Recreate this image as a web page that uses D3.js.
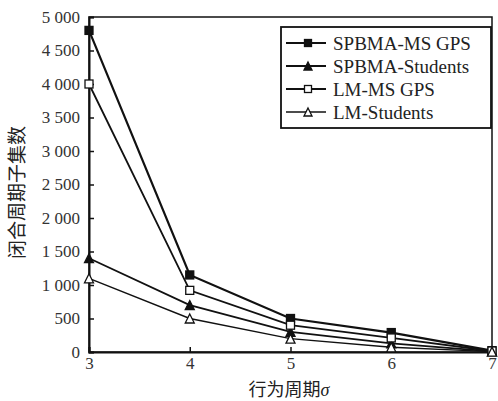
<!DOCTYPE html>
<html>
<head>
<meta charset="utf-8">
<script src="https://cdn.jsdelivr.net/npm/d3@7"></script>
<style>
  body { margin: 0; background: #fff; }
  svg text { font-family: "Liberation Serif", "DejaVu Serif", serif; fill: #222; }
  svg text.cjk, svg tspan.cjk { font-family: "Noto Sans CJK SC", sans-serif; }
</style>
</head>
<body>
<div id="wrapper"></div>
<script>
// data
const periods = [3, 4, 5, 6, 7];
const spbmaMs = [4800, 1150, 500, 290, 20];
const spbmaStudents = [1400, 700, 300, 130, 10];
const lmMs = [4000, 920, 400, 210, 15];
const lmStudents = [1100, 500, 200, 70, 5];
const seriesNames = ["SPBMA-MS GPS", "SPBMA-Students", "LM-MS GPS", "LM-Students"];
const yTicks = [0, 500, 1000, 1500, 2000, 2500, 3000, 3500, 4000, 4500, 5000];

const series = [
  { name: seriesNames[0], values: spbmaMs, shape: "square", filled: true, width: 2.2 },
  { name: seriesNames[1], values: spbmaStudents, shape: "triangle", filled: true, width: 1.8 },
  { name: seriesNames[2], values: lmMs, shape: "square", filled: false, width: 1.8 },
  { name: seriesNames[3], values: lmStudents, shape: "triangle", filled: false, width: 1.4 },
];

// dimensions
const width = 498, height = 401;
const margin = { top: 17, right: 5, bottom: 49, left: 89 };
const boundedWidth = width - margin.left - margin.right;
const boundedHeight = height - margin.top - margin.bottom;

const svg = d3.select("#wrapper").append("svg")
  .attr("width", width)
  .attr("height", height);

const bounds = svg.append("g")
  .attr("transform", `translate(${margin.left},${margin.top})`);

// scales
const x = d3.scaleLinear().domain([3, 7]).range([0, boundedWidth - 1]);
const y = d3.scaleLinear().domain([0, 5000]).range([boundedHeight, 0]);

const fmt = v => v >= 1000 ? d3.format(",")(v).replace(",", " ") : String(v);

// frame
bounds.append("rect")
  .attr("width", x(7)).attr("height", boundedHeight)
  .attr("fill", "none").attr("stroke", "#111").attr("stroke-width", 1.5);

// y axis, inward ticks
const yAxis = bounds.append("g")
  .call(d3.axisLeft(y).tickValues(yTicks).tickSize(-5).tickPadding(9).tickFormat(fmt));
yAxis.select(".domain").attr("stroke", "#111").attr("stroke-width", 2);
yAxis.selectAll(".tick line").attr("stroke", "#111").attr("stroke-width", 1.5);
yAxis.selectAll("text")
  .style("font-family", "'Liberation Serif', serif")
  .style("font-size", "17px")
  .style("fill", "#333");

// x axis, inward ticks
const xAxis = bounds.append("g")
  .attr("transform", `translate(0,${boundedHeight})`)
  .call(d3.axisBottom(x).tickValues(periods).tickSize(-5).tickPadding(5).tickFormat(d3.format("d")));
xAxis.select(".domain").attr("stroke", "#111").attr("stroke-width", 2);
xAxis.selectAll(".tick line").attr("stroke", "#111").attr("stroke-width", 1.5);
xAxis.selectAll("text")
  .style("font-family", "'Liberation Serif', serif")
  .style("font-size", "17px")
  .style("fill", "#333");

// axis titles
svg.append("text")
  .attr("class", "cjk")
  .attr("transform", `translate(17,${margin.top + boundedHeight / 2 + 8}) rotate(-90)`)
  .attr("text-anchor", "middle")
  .attr("dy", "0.35em")
  .style("font-size", "19px")
  .text("闭合周期子集数");

const xt = svg.append("text")
  .attr("x", 289)
  .attr("y", 390)
  .attr("dy", "0.35em")
  .attr("text-anchor", "middle")
  .style("font-size", "18px");
xt.append("tspan").attr("class", "cjk").text("行为周期");
xt.append("tspan").style("font-style", "italic").text("σ");

// markers
function drawMarker(g, shape, filled, cx, cy, size) {
  if (shape === "square") {
    g.append("rect")
      .attr("x", cx - size / 2).attr("y", cy - size / 2)
      .attr("width", size).attr("height", size)
      .attr("fill", filled ? "#111" : "#fff")
      .attr("stroke", "#111").attr("stroke-width", 1.3);
  } else {
    const s = size + 1;
    g.append("path")
      .attr("d", `M${cx},${cy - s / 2} L${cx + s / 2},${cy + s / 2} L${cx - s / 2},${cy + s / 2} Z`)
      .attr("fill", filled ? "#111" : "#fff")
      .attr("stroke", "#111").attr("stroke-width", 1.3);
  }
}

const line = d3.line().x((d, i) => x(periods[i])).y(d => y(d));

series.forEach(s => {
  bounds.append("path")
    .datum(s.values)
    .attr("d", line)
    .attr("fill", "none")
    .attr("stroke", "#111")
    .attr("stroke-width", s.width);
});
series.forEach(s => {
  const g = bounds.append("g");
  s.values.forEach((v, i) => drawMarker(g, s.shape, s.filled, x(periods[i]), y(v), 8));
});

// legend
const legend = svg.append("g").attr("transform", "translate(281,27)");
legend.append("rect")
  .attr("width", 210).attr("height", 101)
  .attr("fill", "#fff").attr("stroke", "#111").attr("stroke-width", 1.8);

series.forEach((s, i) => {
  const ly = 16 + i * 23;
  legend.append("line")
    .attr("x1", 5).attr("x2", 45).attr("y1", ly).attr("y2", ly)
    .attr("stroke", "#111").attr("stroke-width", s.width);
  drawMarker(legend, s.shape, s.filled, 27, ly, 7);
  legend.append("text")
    .attr("x", 52).attr("y", ly)
    .attr("dy", "0.35em")
    .style("font-size", "19px")
    .text(s.name);
});
</script>
</body>
</html>
